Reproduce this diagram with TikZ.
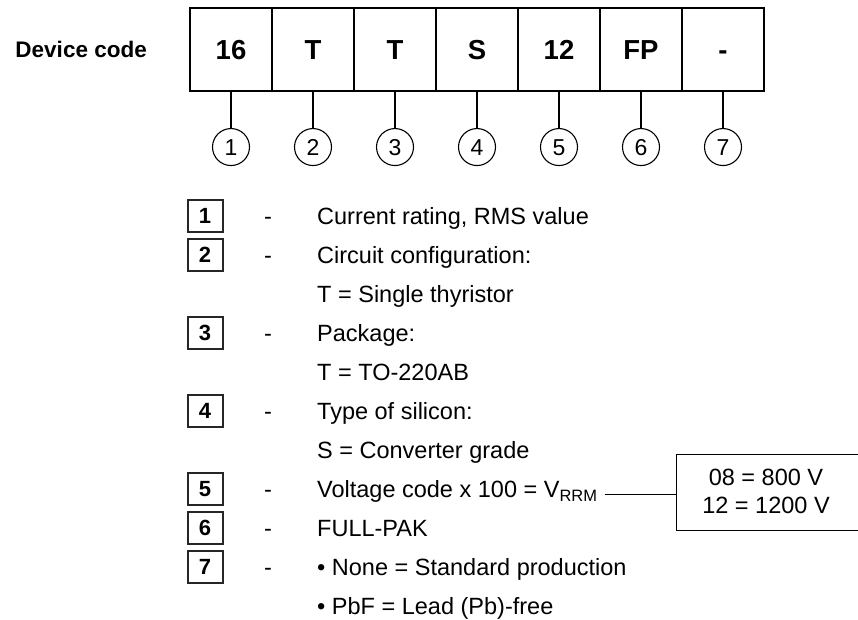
\documentclass[tikz,border=0pt]{standalone}
\usepackage{fontspec}
\setmainfont{Liberation Sans}
\usetikzlibrary{positioning}

\tikzset{
    cell/.style={rectangle,draw=black,line width=1.3pt,outer sep=0pt,inner sep=0pt,
        minimum width=82pt,minimum height=83pt,text height=19.7pt,text depth=0pt,
        font=\fontsize{27.5}{32}\selectfont\bfseries},
    num/.style={circle,draw=black,line width=1.1pt,inner sep=0pt,minimum size=37pt,
        text height=16.5pt,text depth=0pt,font=\fontsize{23}{27}\selectfont},
    keybox/.style={rectangle,draw=black!85,line width=2pt,inner sep=0pt,
        minimum width=35pt,minimum height=32pt,text height=15.8pt,text depth=0pt,
        font=\fontsize{22}{26}\selectfont\bfseries},
    dashtext/.style={inner sep=0pt,text height=16.8pt,text depth=0pt,font=\fontsize{23.5}{28}\selectfont},
    desc/.style={anchor=west,inner sep=0pt,text height=16.8pt,text depth=0pt,
        font=\fontsize{23.5}{28}\selectfont}
}

\begin{document}
\begin{tikzpicture}[x=1pt,y=-1pt]
    \useasboundingbox (0,0) rectangle (858,620);
    \clip (0,0) rectangle (858,620);

    % code cells
    \node (c1) [cell,anchor=north west] at (190,8) {16};
    \node (c2) [cell,right=0pt of c1] {T};
    \node (c3) [cell,right=0pt of c2] {T};
    \node (c4) [cell,right=0pt of c3] {S};
    \node (c5) [cell,right=0pt of c4] {12};
    \node (c6) [cell,right=0pt of c5] {FP};
    \node (c7) [cell,right=0pt of c6] {-};
    \draw[line width=2.6pt] (c1.north west) rectangle (c7.south east);

    \node (devlabel) [inner sep=0pt,left=43pt of c1,text height=16pt,text depth=0pt,
        font=\fontsize{22.5}{26}\selectfont\bfseries] {Device code};

    % numbered circles
    \node (n1) [num,below=37pt of c1] {1};
    \node (n2) [num,below=37pt of c2] {2};
    \node (n3) [num,below=37pt of c3] {3};
    \node (n4) [num,below=37pt of c4] {4};
    \node (n5) [num,below=37pt of c5] {5};
    \node (n6) [num,below=37pt of c6] {6};
    \node (n7) [num,below=37pt of c7] {7};
    \draw[line width=1.1pt] (c1.south) -- (n1.north);
    \draw[line width=1.1pt] (c2.south) -- (n2.north);
    \draw[line width=1.1pt] (c3.south) -- (n3.north);
    \draw[line width=1.1pt] (c4.south) -- (n4.north);
    \draw[line width=1.1pt] (c5.south) -- (n5.north);
    \draw[line width=1.1pt] (c6.south) -- (n6.north);
    \draw[line width=1.1pt] (c7.south) -- (n7.north);

    % legend
    \node (k1) [keybox] at (205,216) {1};
    \node (d1) [dashtext] at (268,216) {-};
    \node (t1) [desc] at (317,216) {Current rating, RMS value};

    \node (k2) [keybox] at (205,255) {2};
    \node (d2) [dashtext] at (268,255) {-};
    \node (t2) [desc] at (317,255) {Circuit configuration:};
    \node (t2b) [desc] at (317,294) {T = Single thyristor};

    \node (k3) [keybox] at (205,333) {3};
    \node (d3) [dashtext] at (268,333) {-};
    \node (t3) [desc] at (317,333) {Package:};
    \node (t3b) [desc] at (317,372) {T = TO-220AB};

    \node (k4) [keybox] at (205,411) {4};
    \node (d4) [dashtext] at (268,411) {-};
    \node (t4) [desc] at (317,411) {Type of silicon:};
    \node (t4b) [desc] at (317,450) {S = Converter grade};

    \node (k5) [keybox] at (205,489) {5};
    \node (d5) [dashtext] at (268,489) {-};
    \node (t5) [desc] at (317,489) {Voltage code x 100 = V\textsubscript{RRM}};

    \node (k6) [keybox] at (205,528) {6};
    \node (d6) [dashtext] at (268,528) {-};
    \node (t6) [desc] at (317,528) {FULL-PAK};

    \node (k7) [keybox] at (205,567) {7};
    \node (d7) [dashtext] at (268,567) {-};
    \node (t7) [desc] at (317,567) {\textbullet{} None = Standard production};
    \node (t7b) [desc] at (317,606) {\textbullet{} PbF = Lead (Pb)-free};

    % voltage values box
    \node (vals) [align=center,inner sep=0pt,font=\fontsize{23.5}{28}\selectfont] at (766,491) {08 = 800 V\\12 = 1200 V};
    \coordinate (boxnw) at (676,454);
    \coordinate (boxsw) at (676,530);
    \coordinate (vin) at (676,494);
    \draw[line width=0.9pt] (boxnw -| 880,0) -- (boxnw) -- (boxsw) -- (boxsw -| 880,0);
    \draw[line width=0.9pt] ([xshift=7pt]t5.east |- vin) -- (vin);
\end{tikzpicture}
\end{document}
